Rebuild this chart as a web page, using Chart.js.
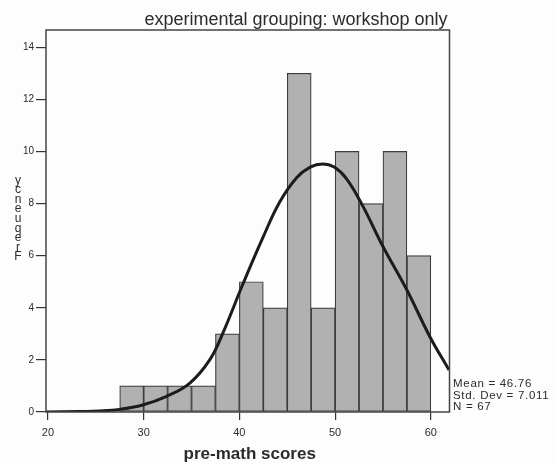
<!DOCTYPE html>
<html>
<head>
<meta charset="utf-8">
<script src="https://cdn.jsdelivr.net/npm/chart.js@4"></script>
<style>
  html, body { margin: 0; padding: 0; background: #fdfdfd; }
  #wrap { width: 554px; height: 465px; position: relative; }
</style>
</head>
<body>
<div id="wrap"><canvas id="histo"></canvas></div>
<script>
// histogram bins (centre of each 2.5 wide bin) and counts
const binCenters = [28.75, 31.25, 33.75, 36.25, 38.75, 41.25, 43.75, 46.25, 48.75, 51.25, 53.75, 56.25, 58.75]
const counts = [1, 1, 1, 1, 3, 5, 4, 13, 4, 10, 8, 10, 6]

// normal curve
const curveX = [19.8, 23.3, 25.4, 27.5, 29.9, 32.4, 34.8, 36.9, 38.3, 40.4, 42.5, 44.2, 46.0, 47.4, 48.7, 49.9, 51.2, 52.9, 55.0, 57.5, 59.9, 61.9]
const curveY = [0, 0.02, 0.04, 0.10, 0.27, 0.60, 1.10, 2.00, 3.05, 4.94, 6.73, 8.05, 9.00, 9.40, 9.52, 9.40, 8.95, 7.90, 6.35, 4.68, 2.89, 1.61]

const xTicks = [20, 30, 40, 50, 60]
const yTicks = [0, 2, 4, 6, 8, 10, 12, 14]

const chartTitle = "experimental grouping: workshop only"
const xTitle = "pre-math scores"
const yTitle = "Frequency"
const stats = ["Mean = 46.76", "Std. Dev = 7.011", "N = 67"]

const ink = "#2b2b2b"

const decorations = {
    id: "decorations",
    afterDraw(chart) {
        const ctx = chart.ctx
        const a = chart.chartArea
        ctx.save()
        // frame
        ctx.strokeStyle = "#444"
        ctx.lineWidth = 1.5
        ctx.strokeRect(a.left, a.top, a.right - a.left, a.bottom - a.top)

        ctx.fillStyle = ink
        // title
        ctx.font = "18px 'Liberation Sans', Arial, sans-serif"
        ctx.textAlign = "center"
        ctx.textBaseline = "alphabetic"
        ctx.fillText(chartTitle, 296, 25)

        // x axis title
        ctx.font = "bold 17px 'Liberation Sans', Arial, sans-serif"
        ctx.fillText(xTitle, (a.left + a.right) / 2 + 2, 459)

        // y title, letters stacked (as in the scan)
        ctx.font = "12px 'Liberation Sans', Arial, sans-serif"
        ctx.textBaseline = "middle"
        const letters = yTitle.split("")
        letters.forEach((ch, i) => {
            ctx.fillText(ch, 18, 257 - i * 9.6)
        })

        // stats box
        ctx.font = "11.5px 'Liberation Sans', Arial, sans-serif"
        ctx.textAlign = "left"
        ctx.letterSpacing = "0.7px"
        stats.forEach((s, i) => ctx.fillText(s, a.right + 3.5, 384 + i * 11.5))
        ctx.restore()
    }
}

new Chart(document.getElementById("histo"), {
    type: "bar",
    data: {
        datasets: [
            {
                type: "line",
                data: curveX.map((x, i) => ({x: x, y: curveY[i]})),
                borderColor: "#1c1c1c",
                borderWidth: 3,
                pointRadius: 0,
                tension: 0.4,
                order: 0
            },
            {
                data: binCenters.map((x, i) => ({x: x, y: counts[i]})),
                backgroundColor: "#b1b1b1",
                borderColor: "#3c3c3c",
                borderWidth: 1.2,
                borderSkipped: false,
                barPercentage: 1,
                categoryPercentage: 1,
                order: 1
            }
        ]
    },
    options: {
        responsive: true,
        maintainAspectRatio: false,
        animation: false,
        layout: {
            padding: {top: 30, right: 104.5, left: 0, bottom: 0}
        },
        scales: {
            x: {
                type: "linear",
                offset: false,
                min: 19.8,
                max: 61.95,
                grid: {
                    offset: false,
                    drawOnChartArea: false,
                    tickLength: 8,
                    color: "#333",
                    lineWidth: 1.2
                },
                border: {display: false},
                ticks: {
                    font: {size: 11, family: "'Liberation Sans', Arial, sans-serif"},
                    color: ink,
                    padding: 6,
                    maxRotation: 0
                },
                afterBuildTicks: s => { s.ticks = xTicks.map(v => ({value: v})) },
                afterFit: s => { s.height = 53 }
            },
            y: {
                min: 0,
                max: 14.66,
                grid: {
                    drawOnChartArea: false,
                    tickLength: 10,
                    color: "#333",
                    lineWidth: 1.2
                },
                border: {display: false},
                ticks: {
                    font: {size: 10, family: "'Liberation Sans', Arial, sans-serif"},
                    color: ink,
                    padding: 2
                },
                afterBuildTicks: s => { s.ticks = yTicks.map(v => ({value: v})) },
                afterFit: s => { s.width = 46 }
            }
        },
        plugins: {
            legend: {display: false},
            tooltip: {enabled: false}
        }
    },
    plugins: [decorations]
})
</script>
</body>
</html>
